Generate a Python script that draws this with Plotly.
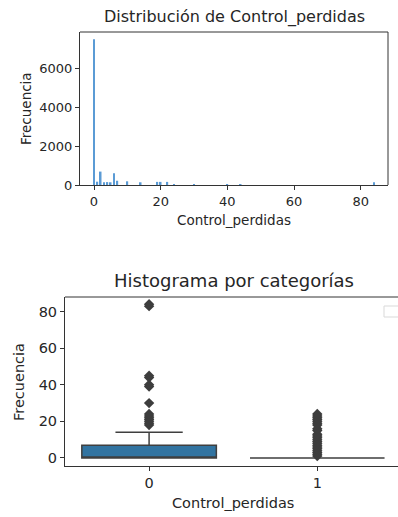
import plotly.graph_objects as go

# ---- data: histogram of Control_perdidas ----
hist_x = [0, 1, 2, 3, 4, 5, 6, 7, 10, 14, 19, 20, 22, 24, 30, 40, 44, 84]
hist_counts = [7500, 170, 690, 140, 150, 140, 600, 220, 190, 140, 160, 160, 160, 50, 40, 35, 35, 140]

# ---- data: box plot by category ----
categories = [0, 1]
box_q1 = [0, 0]
box_median = [0, 0]
box_q3 = [7, 0]
box_low = [0, 0]
box_high = [14, 0]
outliers_0 = [18, 19, 20, 21, 22, 23, 24, 30, 39, 40, 44, 45, 83, 84]
outliers_1 = [1, 2, 3, 4, 5, 6, 7, 8, 9, 10, 11, 12, 13, 15, 16, 18, 19, 20, 21, 22, 23, 24]

W, H = 398, 517
FONT = "DejaVu Sans"
GREY = "#333333"
TXT = "#262626"

def px(xp):
    return xp / W

def py(yp):
    return 1 - yp / H

fig = go.Figure()

fig.add_trace(go.Bar(x=hist_x, y=hist_counts, width=0.5,
                     marker=dict(color="#5b9bd5", line=dict(width=0)),
                     xaxis="x", yaxis="y", showlegend=False))

box_colors = ["#3274a1", "#3274a1"]
for i, c in enumerate(categories):
    fig.add_trace(go.Box(x=[c], q1=[box_q1[i]], median=[box_median[i]], q3=[box_q3[i]],
                         lowerfence=[box_low[i]], upperfence=[box_high[i]],
                         width=0.8, whiskerwidth=0.5, boxpoints=False,
                         fillcolor=box_colors[i], line=dict(color="#3f3f3f", width=1.5),
                         xaxis="x2", yaxis="y2", showlegend=False))

fig.add_trace(go.Scatter(x=[categories[0]] * len(outliers_0), y=outliers_0, mode="markers",
                         marker=dict(symbol="diamond", size=8, color="#3d3d3d"),
                         xaxis="x2", yaxis="y2", showlegend=False))
fig.add_trace(go.Scatter(x=[categories[1]] * len(outliers_1), y=outliers_1, mode="markers",
                         marker=dict(symbol="diamond", size=8, color="#3d3d3d"),
                         xaxis="x2", yaxis="y2", showlegend=False))

axis_common = dict(showgrid=False, zeroline=False, showline=True, linecolor=GREY, linewidth=1,
                   ticks="outside", ticklen=4, tickcolor=GREY, automargin=False)

def ann(text, x, y, size, angle=0):
    return dict(text=text, x=px(x), y=py(y), xref="paper", yref="paper", showarrow=False,
                font=dict(size=size, color=TXT), xanchor="center", yanchor="middle", textangle=angle)

fig.update_layout(
    width=W, height=H, margin=dict(l=0, r=0, t=0, b=0, autoexpand=False),
    paper_bgcolor="white", plot_bgcolor="white",
    font=dict(family=FONT, color=TXT),
    xaxis=dict(domain=[px(80), px(388)], anchor="y", range=[-4.2, 88.2],
               tickvals=[0, 20, 40, 60, 80], tickfont=dict(size=13), **axis_common),
    yaxis=dict(domain=[py(185), py(32)], anchor="x", range=[0, 7875],
               tickvals=[0, 2000, 4000, 6000], tickfont=dict(size=13), **axis_common),
    xaxis2=dict(domain=[px(65), 1.0], anchor="y2", range=[-0.5, 1.48],
                tickvals=[0, 1], ticktext=["0", "1"], tickfont=dict(size=14.5), **axis_common),
    yaxis2=dict(domain=[py(466), py(297)], anchor="x2", range=[-4.4, 88],
                tickvals=[0, 20, 40, 60, 80], tickfont=dict(size=14.5), **axis_common),
    annotations=[
        ann("Distribución de Control_perdidas", 234, 17, 16),
        ann("Control_perdidas", 234, 220, 13.5),
        ann("Frecuencia", 26, 109, 13.5, -90),
        ann("Histograma por categorías", 234, 280, 18),
        ann("Control_perdidas", 233, 503, 14.5),
        ann("Frecuencia", 19, 382, 14.5, -90),
    ],
    shapes=[
        # top chart frame (top and right spines)
        dict(type="line", xref="x domain", yref="y domain", x0=0, x1=1, y0=1, y1=1,
             line=dict(color=GREY, width=1)),
        dict(type="line", xref="x domain", yref="y domain", x0=1, x1=1, y0=0, y1=1,
             line=dict(color=GREY, width=1)),
        # bottom chart top spine
        dict(type="line", xref="x2 domain", yref="y2 domain", x0=0, x1=1, y0=1, y1=1,
             line=dict(color=GREY, width=1)),
        # empty legend frame
        dict(type="rect", xref="paper", yref="paper", x0=px(384), x1=px(400), y0=py(317), y1=py(306),
             line=dict(color="#d9d9d9", width=1), fillcolor="rgba(255,255,255,0.8)"),
    ],
)

fig.write_html("out.html", config={"displayModeBar": False},
               post_script="document.body.style.margin='0';document.body.style.overflow='hidden';")
